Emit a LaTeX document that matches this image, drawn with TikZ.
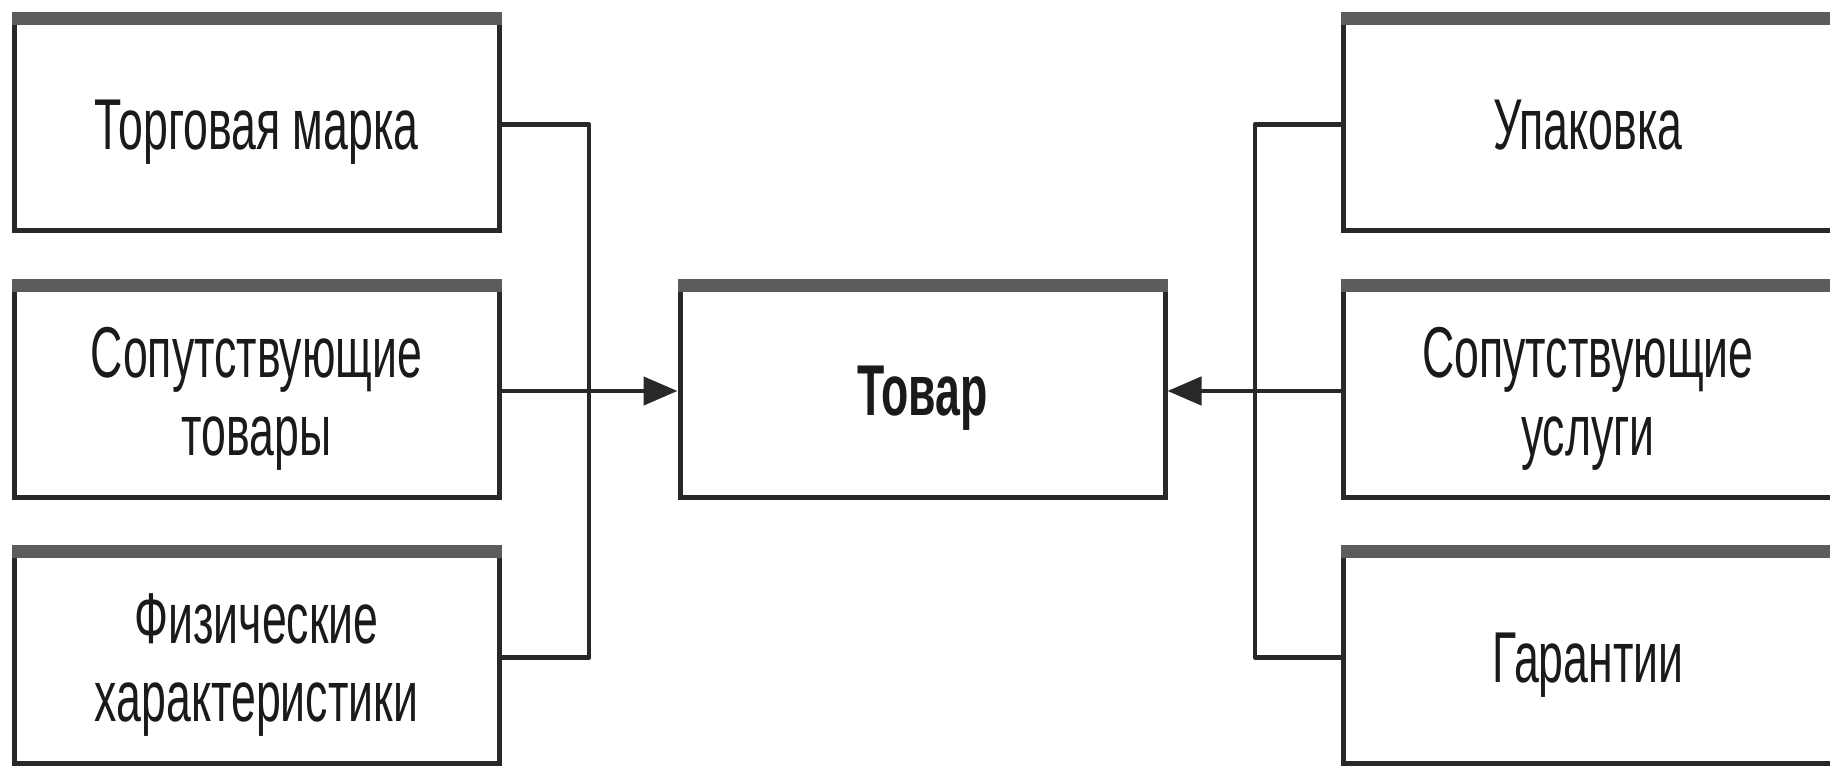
\documentclass[tikz,border=0pt]{standalone}
\usepackage{fontspec}
\setmainfont[FakeStretch=0.62]{Liberation Sans}
\usetikzlibrary{arrows.meta}
\definecolor{edge}{HTML}{282828}
\definecolor{band}{HTML}{5C5C5C}
\definecolor{ink}{HTML}{1A1A1A}
\begin{document}
\begin{tikzpicture}[x=1pt,y=-1pt,
  box/.style={draw=edge, line width=5pt, minimum width=485pt, minimum height=212pt,
    inner sep=0pt, outer sep=0pt, align=center, text=ink, text depth=0pt,
    font=\fontsize{72}{78}\selectfont},
  topbar/.style={draw=band, line width=13pt, shorten <=-2.5pt, shorten >=-2.5pt},
  link/.style={draw=edge, line width=4.5pt, line join=round},
  feed/.style={link, -{Triangle[length=34pt,width=28pt]}, shorten >=2.5pt}]
  \useasboundingbox (0,0) rectangle (1830,767);

  % left column
  \node[box] (l1) at (256.5,124.5) {Торговая марка};
  \node[box] (l2) at (256.5,391) {Сопутствующие\\товары};
  \node[box] (l3) at (256.5,657.5) {Физические\\характеристики};

  % centre
  \node[box, font=\bfseries\fontsize{72}{78}\selectfont] (c) at (922.5,391) {Товар};

  % right column
  \node[box, minimum width=490pt] (r1) at (1588,124.5) {Упаковка};
  \node[box, minimum width=490pt] (r2) at (1588,391) {Сопутствующие\\услуги};
  \node[box, minimum width=490pt] (r3) at (1588,657.5) {Гарантии};

  % heavy top edges
  \foreach \n in {l1,l2,l3,c,r1,r2,r3}
    \draw[topbar] (\n.north west) -- (\n.north east);

  % brackets
  \coordinate (lx) at (589,0);
  \coordinate (rx) at (1255,0);
  \draw[link] (l1.east) -- (l1.east -| lx) -- (l3.east -| lx) -- (l3.east);
  \draw[link] (r1.west) -- (r1.west -| rx) -- (r3.west -| rx) -- (r3.west);
  \draw[feed] (l2.east) -- (c.west);
  \draw[feed] (r2.west) -- (c.east);
\end{tikzpicture}
\end{document}
